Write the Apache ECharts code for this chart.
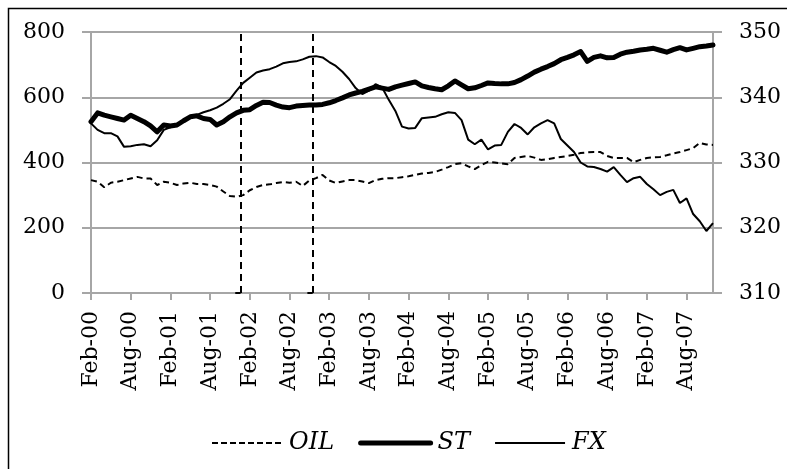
<!DOCTYPE html>
<html>
<head>
<meta charset="utf-8">
<script src="https://cdn.jsdelivr.net/npm/echarts@6/dist/echarts.min.js"></script>
<style>
  html, body { margin: 0; padding: 0; background: #fff; }
  #main { width: 787px; height: 469px; }
</style>
</head>
<body>
<div id="main"></div>
<script>
// months counted from Feb-00 (0) to Dec-07 (94)
var tickLabels = ['Feb-00', 'Aug-00', 'Feb-01', 'Aug-01', 'Feb-02', 'Aug-02', 'Feb-03', 'Aug-03',
    'Feb-04', 'Aug-04', 'Feb-05', 'Aug-05', 'Feb-06', 'Aug-06', 'Feb-07', 'Aug-07'];

// left axis
var oil = [346, 341, 324, 338, 341, 346, 351, 356, 351, 351, 331, 341, 338, 331, 336, 338, 334, 334, 331, 326,
    311, 297, 295, 300, 315, 325, 331, 333, 337, 340, 338, 341, 328, 345, 352, 362, 345, 337, 342, 346,
    346, 342, 337, 346, 350, 352, 352, 355, 358, 362, 366, 368, 371, 378, 386, 395, 398, 388, 380, 392,
    402, 400, 397, 395, 414, 417, 420, 415, 408, 410, 414, 417, 420, 424, 429, 431, 432, 432, 420, 414,
    414, 414, 401, 408, 414, 416, 417, 422, 428, 432, 438, 444, 460, 455, 454];

var st = [525, 552, 545, 540, 535, 530, 545, 535, 525, 512, 494, 515, 512, 515, 528, 540, 543, 535, 532, 515,
    525, 540, 552, 560, 562, 575, 585, 584, 576, 570, 568, 573, 575, 576, 576, 578, 583, 590, 598, 607,
    613, 618, 625, 632, 628, 624, 632, 637, 642, 647, 635, 630, 626, 623, 635, 650, 638, 626, 629, 636,
    644, 642, 641, 641, 645, 654, 665, 677, 686, 694, 703, 715, 722, 730, 740, 710, 722, 727, 721, 722,
    732, 738, 741, 745, 747, 750, 744, 738, 746, 752, 745, 750, 755, 757, 760];

// right axis
var fx = [336.0, 335.0, 334.5, 334.5, 334.0, 332.4, 332.5, 332.7, 332.8, 332.5, 333.4, 335.0, 335.4, 335.9, 336.4,
    336.9, 337.3, 337.7, 338.0, 338.4, 339.0, 339.7, 341.0, 342.2, 343.0, 343.8, 344.1, 344.3, 344.7, 345.2,
    345.4, 345.5, 345.8, 346.2, 346.3, 346.1, 345.4, 344.8, 343.9, 342.8, 341.4, 340.5, 341.0, 342.0, 341.5,
    339.6, 337.9, 335.5, 335.2, 335.3, 336.8, 336.9, 337.0, 337.4, 337.7, 337.6, 336.5, 333.5, 332.8, 333.5,
    332.0, 332.6, 332.7, 334.7, 335.9, 335.3, 334.3, 335.4, 336.0, 336.5, 336.0, 333.6, 332.6, 331.6, 330.0,
    329.4, 329.3, 329.0, 328.6, 329.3, 328.1, 327.0, 327.6, 327.8, 326.7, 325.9, 325.0, 325.5, 325.8, 323.8,
    324.5, 322.1, 321.0, 319.5, 320.7];

// vertical dashed event lines (months from Feb-00)
var eventMonths = [22.6, 33.5];

function toPairs(arr) {
    return arr.map(function (v, i) { return [i, v]; });
}

var tickValues = tickLabels.map(function (l, i) { return i * 6; });
var font = 'DejaVu Serif';
var gridGray = '#a6a6a6';

var dom = document.getElementById('main');
var myChart = echarts.init(dom);

var eventLines = [];
eventMonths.forEach(function (m) {
    eventLines.push({ xAxis: m });
});
eventMonths.forEach(function (m) {
    eventLines.push([{ coord: [m - 0.8, 0] }, { coord: [m, 0] }]);
});

myChart.setOption({
    animation: false,
    graphic: [{
        type: 'rect',
        shape: { x: 8.5, y: 8.5, width: 820, height: 500 },
        style: { fill: 'none', stroke: '#000', lineWidth: 1.5 },
        silent: true
    }],
    grid: { left: 91, right: 74, top: 32, bottom: 176 },
    legend: {
        left: 206,
        top: 426,
        itemWidth: 70,
        itemHeight: 14,
        itemGap: 24,
        itemStyle: { opacity: 0 },
        textStyle: { fontFamily: font, fontStyle: 'italic', fontSize: 24, color: '#000', padding: [0, 0, 0, 2] },
        data: [
            { name: 'OIL', lineStyle: { width: 2, type: [6, 3] } },
            { name: 'ST', lineStyle: { width: 5, cap: 'round' } },
            { name: 'FX', lineStyle: { width: 2 } }
        ]
    },
    xAxis: {
        type: 'value',
        min: 0,
        max: 94,
        interval: 6,
        axisLine: { show: true, lineStyle: { color: gridGray, width: 2 } },
        axisTick: { show: true, length: 7, customValues: tickValues, lineStyle: { color: gridGray, width: 2 } },
        axisLabel: {
            customValues: tickValues,
            rotate: 90,
            margin: 18,
            fontFamily: font,
            fontSize: 22,
            color: '#000',
            formatter: function (v) {
                return tickLabels[Math.round(v / 6)] || '';
            }
        },
        splitLine: { show: false }
    },
    yAxis: [{
        type: 'value',
        min: 0,
        max: 800,
        interval: 200,
        axisLine: { show: true, lineStyle: { color: gridGray, width: 2 } },
        axisTick: { show: true, length: 9, lineStyle: { color: gridGray, width: 2 } },
        axisLabel: { margin: 26, fontFamily: font, fontSize: 22, color: '#000' },
        splitLine: { show: true, lineStyle: { color: gridGray, width: 2 } }
    }, {
        type: 'value',
        min: 310,
        max: 350,
        interval: 10,
        axisLine: { show: true, lineStyle: { color: gridGray, width: 2 } },
        axisTick: { show: true, length: 9, lineStyle: { color: gridGray, width: 2 } },
        axisLabel: { margin: 26, fontFamily: font, fontSize: 22, color: '#000' },
        splitLine: { show: false }
    }],
    series: [{
        name: 'OIL',
        type: 'line',
        yAxisIndex: 0,
        symbol: 'none',
        data: toPairs(oil),
        lineStyle: { color: '#000', width: 2, type: [6, 4] },
        itemStyle: { color: '#000' }
    }, {
        name: 'ST',
        type: 'line',
        yAxisIndex: 0,
        symbol: 'none',
        data: toPairs(st),
        lineStyle: { color: '#000', width: 5, cap: 'round', join: 'round' },
        itemStyle: { color: '#000' },
        markLine: {
            silent: true,
            symbol: 'none',
            label: { show: false },
            lineStyle: { color: '#000', width: 2, type: [7, 5] },
            data: eventLines
        }
    }, {
        name: 'FX',
        type: 'line',
        yAxisIndex: 1,
        symbol: 'none',
        data: toPairs(fx),
        lineStyle: { color: '#000', width: 2 },
        itemStyle: { color: '#000' }
    }]
});
</script>
</body>
</html>
